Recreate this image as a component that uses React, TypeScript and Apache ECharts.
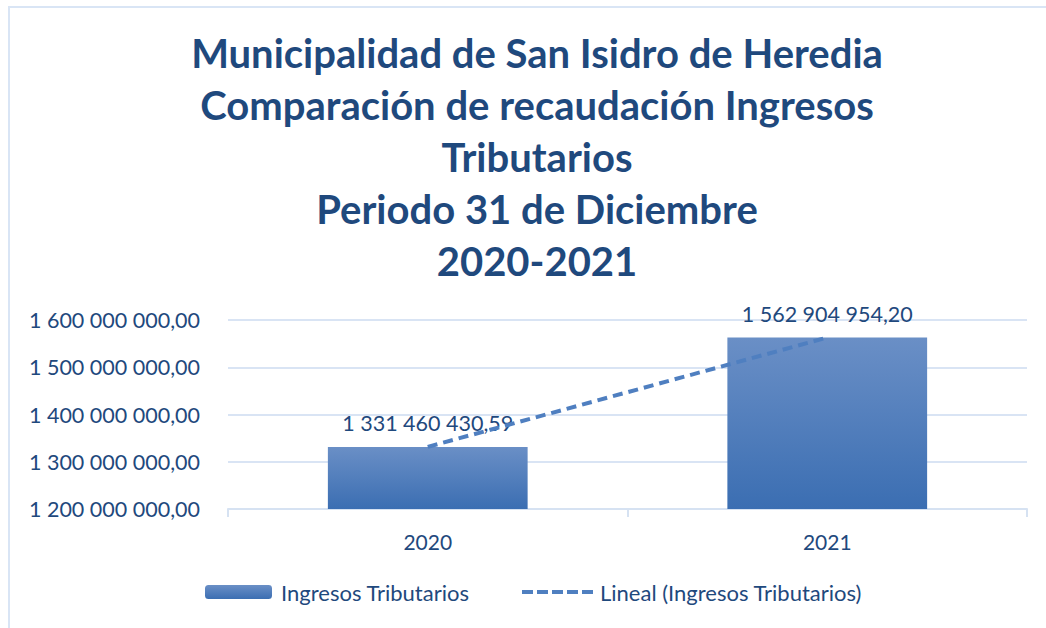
import React, { useEffect, useRef } from "react";
import * as echarts from "echarts";

const titleLines = [
  "Municipalidad de San Isidro de Heredia",
  "Comparación de recaudación Ingresos",
  "Tributarios",
  "Periodo 31 de Diciembre",
  "2020-2021",
];
const categories = ["2020", "2021"];
const barName = "Ingresos Tributarios";
const trendName = "Lineal (Ingresos Tributarios)";
const values = [1331460430.59, 1562904954.2];
const yMin = 1200000000;
const yMax = 1600000000;
const yInterval = 100000000;

const TEXT = "#1F497D";
const FONT = "Lato";
const DASH_ICON =
  "path://M0,0h11v4h-11z M15,0h11v4h-11z M30,0h11v4h-11z M45,0h11v4h-11z M60,0h11v4h-11z";

function fmt(v: number): string {
  const [i, d] = v.toFixed(2).split(".");
  return i.replace(/\B(?=(\d{3})+(?!\d))/g, " ") + "," + d;
}

export default function App() {
  const ref = useRef<HTMLDivElement>(null);
  useEffect(() => {
    if (!ref.current) return;
    const chart = echarts.init(ref.current, null, { renderer: "svg" });
    const barGrad = new echarts.graphic.LinearGradient(0, 0, 0, 1, [
      { offset: 0, color: "#6A8FC6" },
      { offset: 1, color: "#3B6EB2" },
    ]);
    chart.setOption({
      animation: false,
      backgroundColor: "#ffffff",
      title: {
        text: titleLines.join("\n"),
        left: 532,
        top: 22,
        textAlign: "center",
        textStyle: {
          fontFamily: FONT,
          fontWeight: "bold",
          fontSize: 40,
          lineHeight: 52,
          color: TEXT,
        },
      },
      graphic: [
        {
          type: "line",
          shape: { x1: 8, y1: 7, x2: 1046, y2: 7 },
          style: { stroke: "#D9E5F5", lineWidth: 2 },
        },
        {
          type: "line",
          shape: { x1: 9, y1: 7, x2: 9, y2: 628 },
          style: { stroke: "#D9E5F5", lineWidth: 2 },
        },
      ],
      legend: [
        {
          data: [barName],
          left: 200,
          top: 576,
          itemWidth: 67,
          itemHeight: 14,
          textStyle: { fontFamily: FONT, fontSize: 22, color: TEXT, padding: [0, 0, 0, 4] },
        },
        {
          data: [{ name: trendName, icon: DASH_ICON }],
          left: 517,
          top: 576,
          itemWidth: 71,
          itemHeight: 4,
          itemStyle: { color: "#4F7FC0" },
          textStyle: { fontFamily: FONT, fontSize: 22, color: TEXT, padding: [0, 0, 0, 2] },
        },
      ],
      grid: { left: 228, right: 19, top: 320, bottom: 119, containLabel: false },
      xAxis: {
        type: "category",
        data: categories,
        axisLine: { lineStyle: { color: "#D6E2F2", width: 2 } },
        axisTick: { show: true, length: 8, lineStyle: { color: "#D6E2F2", width: 2 } },
        axisLabel: { fontFamily: FONT, fontSize: 21, color: TEXT, margin: 22 },
      },
      yAxis: {
        type: "value",
        min: yMin,
        max: yMax,
        interval: yInterval,
        axisLine: { show: false },
        axisTick: { show: false },
        splitLine: { lineStyle: { color: "#D9E4F4", width: 2 } },
        axisLabel: {
          fontFamily: FONT,
          fontSize: 21.5,
          color: TEXT,
          margin: 28,
          formatter: (v: number) => fmt(v),
        },
      },
      series: [
        {
          name: barName,
          type: "bar",
          data: values,
          barWidth: "50%",
          itemStyle: { color: barGrad },
          label: {
            show: true,
            position: "top",
            distance: 13,
            fontFamily: FONT,
            fontSize: 21.5,
            color: TEXT,
            formatter: (p: any) => fmt(p.value),
          },
        },
        {
          name: trendName,
          type: "line",
          data: values,
          symbol: "none",
          z: 5,
          lineStyle: { color: "#4F7FC0", width: 4, type: [10, 6], cap: "butt" },
          itemStyle: { color: "#4F7FC0" },
        },
      ],
    });
    return () => chart.dispose();
  }, []);
  return (
    <div
      ref={ref}
      style={{ position: "absolute", left: 0, top: 0, width: 1046, height: 628 }}
    />
  );
}
